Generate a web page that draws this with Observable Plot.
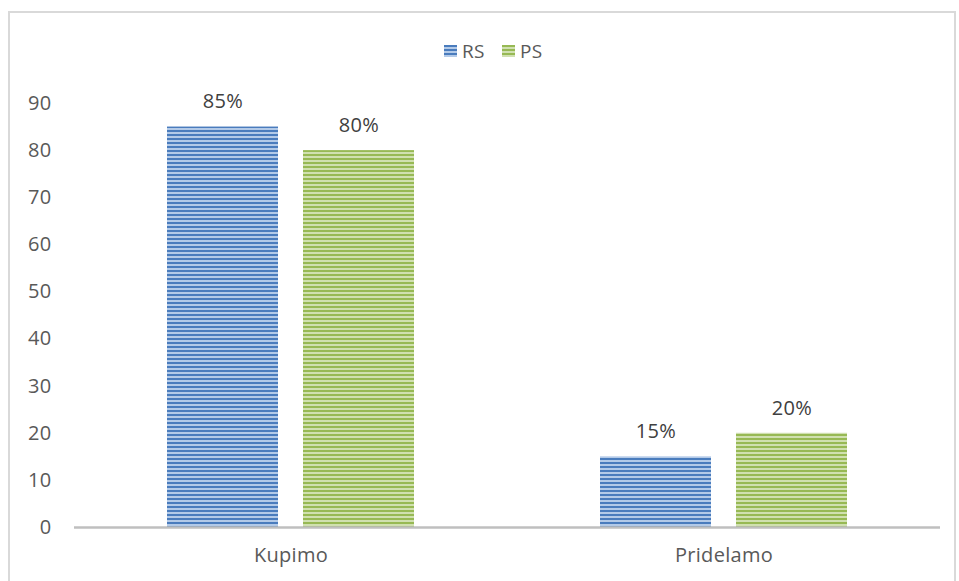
<!DOCTYPE html>
<html>
<head>
<meta charset="utf-8">
<script src="https://cdn.jsdelivr.net/npm/d3@7"></script>
<script src="https://cdn.jsdelivr.net/npm/@observablehq/plot@0.6"></script>
<style>
  html, body { margin: 0; padding: 0; background: #fff; }
  body { width: 959px; height: 581px; overflow: hidden; position: relative; font-family: "Open Sans", sans-serif; }
  #frame { position: absolute; left: 8px; top: 11px; width: 948px; height: 600px; border: 2px solid #d9d9d9; box-sizing: border-box; pointer-events: none; }
  #legend { position: relative; height: 70px; }
  .item { position: absolute; top: 39px; font-size: 19px; color: #595959; line-height: 24px; letter-spacing: 0.3px; }
  .sw { position: absolute; top: 6px; width: 13px; height: 12px; }
  #chart { position: relative; height: 511px; }
</style>
</head>
<body>
<div id="frame"></div>
<div id="legend"></div>
<div id="chart"></div>
<script>
const categories = ["Kupimo", "Pridelamo"];
const series = ["RS", "PS"];
const rsValues = [85, 15];
const psValues = [80, 20];
const yTicks = [0, 10, 20, 30, 40, 50, 60, 70, 80, 90];
const darkColors = ["#4a7cbd", "#97b954"];
const lightColors = ["#b3cae8", "#d0e0b0"];

const data = [];
categories.forEach((c, i) => {
  data.push({category: c, series: "RS", value: rsValues[i]});
  data.push({category: c, series: "PS", value: psValues[i]});
});

const chart = Plot.plot({
  width: 959,
  height: 511,
  marginLeft: 73,
  marginRight: 19,
  marginTop: 33,
  marginBottom: 54,
  style: {fontFamily: "'Open Sans', sans-serif", fontSize: "20px", color: "#595959", background: "transparent", overflow: "visible", letterSpacing: "0.3px"},
  fx: {domain: categories, padding: 0, label: null},
  x: {domain: series, paddingInner: 0.182, paddingOuter: 0.673, axis: null},
  y: {domain: [0, 90], label: null},
  color: {domain: series, range: ["url(#pRS)", "url(#pPS)"]},
  marks: [
    Plot.axisY(yTicks, {tickSize: 0, tickPadding: 23, fontSize: 20, fill: "#595959", label: null}),
    Plot.axisFx({anchor: "bottom", tickSize: 0, tickPadding: 20, fontSize: 20, fill: "#595959", label: null}),
    Plot.barY(data, {fx: "category", x: "series", y: "value", fill: "series"}),
    Plot.ruleY([0], {stroke: "#bfbfbf", strokeWidth: 2.5}),
    Plot.text(data, {fx: "category", x: "series", y: "value", text: d => d.value + "%", dy: -25, fill: "#404040", fontSize: 20})
  ]
});

// patterns
const svg = d3.select(chart.tagName.toLowerCase() === "svg" ? chart : chart.querySelector("svg"));
const defs = svg.insert("defs", ":first-child");
series.forEach((s, i) => {
  const p = defs.append("pattern").attr("id", "p" + s).attr("patternUnits", "userSpaceOnUse")
    .attr("width", 4).attr("height", 4);
  p.append("rect").attr("width", 4).attr("height", 4).attr("fill", lightColors[i]);
  p.append("rect").attr("width", 4).attr("height", 2).attr("fill", darkColors[i]);
});
document.getElementById("chart").appendChild(chart);

// legend
const legend = d3.select("#legend");
const lx = [444, 502];
series.forEach((s, i) => {
  const it = legend.append("div").attr("class", "item").style("left", lx[i] + "px");
  it.append("div").attr("class", "sw")
    .style("background", `repeating-linear-gradient(to bottom, ${darkColors[i]} 0px, ${darkColors[i]} 2px, ${lightColors[i]} 2px, ${lightColors[i]} 4px)`);
  it.append("span").style("margin-left", "18px").text(s);
});
</script>
</body>
</html>
